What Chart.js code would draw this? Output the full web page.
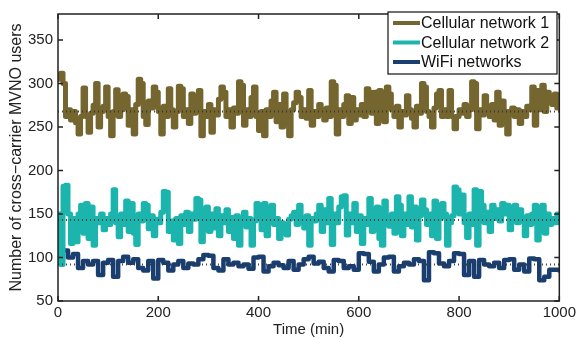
<!DOCTYPE html>
<html>
<head>
<meta charset="utf-8">
<script src="https://cdn.jsdelivr.net/npm/chart.js@4/dist/chart.umd.min.js"></script>
<style>
  html, body { margin: 0; padding: 0; background: #fff; }
  #wrap { width: 579px; height: 339px; }
</style>
</head>
<body>
<div id="wrap"><canvas id="chart"></canvas></div>
<script>
// values, cellular series every 5 min, wifi every 10 min
const cellular1 = [305, 312, 300, 262, 270, 258, 268, 255, 242, 262, 295, 262, 244, 266, 275, 300, 250, 268, 274, 296,
  262, 240, 268, 293, 262, 270, 288, 285, 252, 270, 242, 276, 305, 300, 262, 253, 280, 272, 296, 290,
  268, 242, 274, 262, 294, 270, 250, 268, 297, 294, 262, 270, 254, 288, 266, 272, 292, 240, 268, 262,
  276, 244, 270, 264, 282, 296, 290, 262, 270, 250, 272, 266, 302, 298, 252, 270, 262, 284, 296, 262,
  246, 268, 240, 270, 262, 280, 290, 256, 276, 250, 288, 266, 240, 270, 278, 290, 284, 262, 270, 260,
  292, 252, 268, 262, 276, 270, 258, 272, 262, 302, 298, 242, 270, 262, 276, 286, 254, 284, 258, 270,
  264, 276, 262, 294, 290, 266, 290, 254, 292, 262, 256, 296, 288, 270, 262, 274, 250, 268, 264, 286,
  270, 260, 250, 274, 266, 300, 296, 268, 262, 250, 272, 288, 292, 262, 270, 262, 292, 262, 248, 262,
  270, 266, 276, 262, 270, 302, 300, 248, 270, 264, 286, 270, 262, 276, 258, 290, 252, 280, 268, 242,
  268, 272, 262, 270, 254, 268, 262, 274, 270, 296, 252, 292, 270, 298, 268, 290, 282, 276, 288, 272, 278];
const cellular2 = [150, 92, 182, 183, 150, 116, 145, 118, 150, 160, 128, 162, 122, 158, 114, 145, 140, 150, 132, 145,
  138, 150, 178, 140, 124, 150, 138, 165, 130, 162, 128, 115, 150, 142, 162, 160, 133, 148, 125, 144,
  140, 152, 176, 175, 130, 142, 120, 145, 116, 148, 138, 152, 130, 150, 144, 168, 166, 118, 145, 158,
  130, 150, 134, 156, 125, 148, 140, 155, 130, 146, 122, 148, 114, 142, 152, 135, 145, 114, 142, 162,
  160, 132, 162, 125, 150, 160, 138, 145, 122, 140, 136, 126, 144, 148, 152, 138, 160, 145, 134, 148,
  114, 145, 142, 150, 160, 130, 155, 140, 168, 115, 150, 140, 158, 170, 171, 126, 150, 140, 162, 130,
  148, 116, 145, 138, 168, 130, 150, 158, 122, 114, 165, 142, 136, 150, 128, 170, 160, 125, 150, 138,
  170, 135, 158, 120, 148, 166, 155, 138, 150, 125, 165, 122, 145, 162, 150, 114, 140, 148, 181, 178,
  150, 172, 140, 123, 150, 138, 178, 114, 176, 160, 140, 152, 130, 160, 145, 155, 142, 162, 150, 160,
  132, 150, 160, 140, 155, 145, 125, 148, 138, 150, 160, 120, 145, 160, 128, 150, 138, 145, 140, 150, 140];
const wifi = [98, 108, 100, 104, 88, 96, 92, 96, 80, 94, 97, 78, 96, 101, 94, 98, 88, 85, 96, 76,
  97, 94, 85, 92, 96, 88, 93, 92, 98, 103, 102, 88, 85, 98, 92, 94, 90, 92, 87, 100,
  101, 84, 90, 94, 91, 88, 96, 86, 92, 98, 101, 93, 95, 88, 84, 97, 96, 88, 90, 86,
  105, 104, 95, 84, 92, 100, 101, 84, 90, 94, 92, 98, 96, 74, 106, 105, 93, 90, 96, 105,
  104, 80, 96, 78, 97, 92, 90, 94, 88, 97, 98, 86, 92, 84, 99, 98, 74, 78, 86, 86, 85];
const cellularStep = 5;
const wifiStep = 10;
const means = [268, 143, 92];
const seriesNames = ['Cellular network 1', 'Cellular network 2', 'WiFi networks'];
const seriesColors = ['#75662f', '#1cb5ae', '#193e6f'];
const xTicks = [0, 200, 400, 600, 800, 1000];
const yTicks = [50, 100, 150, 200, 250, 300, 350];

const FONT = "'Liberation Sans', Arial, sans-serif";

function toPoints(values, step) {
  return values.map((v, i) => ({ x: i * step, y: v }));
}

const lineSets = [
  [cellular1, cellularStep, 5],
  [cellular2, cellularStep, 5],
  [wifi, wifiStep, 4.5]
].map(([vals, step, width], k) => ({
  label: seriesNames[k],
  data: toPoints(vals, step),
  borderColor: seriesColors[k],
  borderWidth: width,
  pointRadius: 0,
  stepped: true,
  borderJoinStyle: 'round',
  borderCapStyle: 'round',
  order: 1
}));

const meanSets = means.map(m => ({
  label: 'mean',
  data: [{ x: 0, y: m }, { x: 1000, y: m }],
  borderColor: 'rgba(50,50,50,0.9)',
  borderWidth: 2,
  borderDash: [1, 3],
  pointRadius: 0,
  order: 0
}));

// box, inward ticks and legend drawn like the original figure
const framePlugin = {
  id: 'frame',
  afterDraw(chart) {
    const { ctx, chartArea: a, scales: { x, y } } = chart;
    ctx.save();
    ctx.strokeStyle = '#222';
    ctx.lineWidth = 1.5;
    ctx.strokeRect(a.left, a.top, a.right - a.left, a.bottom - a.top);
    ctx.beginPath();
    xTicks.forEach(t => {
      const px = x.getPixelForValue(t);
      ctx.moveTo(px, a.bottom); ctx.lineTo(px, a.bottom - 5);
      ctx.moveTo(px, a.top); ctx.lineTo(px, a.top + 5);
    });
    yTicks.forEach(t => {
      const py = y.getPixelForValue(t);
      ctx.moveTo(a.left, py); ctx.lineTo(a.left + 5, py);
      ctx.moveTo(a.right, py); ctx.lineTo(a.right - 5, py);
    });
    ctx.stroke();

    // legend
    const lx = 388, ly = 12, lw = 169, lh = 62;
    ctx.fillStyle = '#fff';
    ctx.fillRect(lx, ly, lw, lh);
    ctx.lineWidth = 1.2;
    ctx.strokeStyle = '#111';
    ctx.strokeRect(lx, ly, lw, lh);
    ctx.font = '16px ' + FONT;
    ctx.textBaseline = 'middle';
    seriesNames.forEach((name, i) => {
      const ry = ly + 11 + i * 19.5;
      ctx.strokeStyle = seriesColors[i];
      ctx.lineWidth = 4;
      ctx.beginPath();
      ctx.moveTo(lx + 5, ry); ctx.lineTo(lx + 32, ry);
      ctx.stroke();
      ctx.fillStyle = '#111';
      ctx.fillText(name, lx + 33, ry + 1);
    });
    ctx.restore();
  }
};

new Chart(document.getElementById('chart'), {
  type: 'line',
  data: { datasets: [...meanSets, ...lineSets] },
  options: {
    responsive: true,
    maintainAspectRatio: false,
    animation: false,
    layout: { padding: { top: 8, right: 19, left: 0, bottom: 0 } },
    plugins: { legend: { display: false }, tooltip: { enabled: false } },
    scales: {
      x: {
        type: 'linear',
        min: 0,
        max: 1000,
        afterBuildTicks: s => { s.ticks = xTicks.map(v => ({ value: v })); },
        afterFit: s => { s.height = 38; },
        grid: { display: false, drawTicks: false },
        border: { display: false },
        ticks: { font: { family: FONT, size: 15 }, color: '#222', padding: 3, maxRotation: 0, callback: v => String(v) },
        title: { display: true, text: 'Time (min)', font: { family: FONT, size: 15 }, color: '#222', padding: { top: 0, bottom: 0 } }
      },
      y: {
        min: 50,
        max: 380,
        afterBuildTicks: s => { s.ticks = yTicks.map(v => ({ value: v })); },
        afterFit: s => { s.width = 58; },
        grid: { display: false, drawTicks: false },
        border: { display: false },
        ticks: { font: { family: FONT, size: 15 }, color: '#222', padding: 5, callback: v => String(v) },
        title: { display: true, text: 'Number of cross−carrier MVNO users', font: { family: FONT, size: 16 }, color: '#222', padding: { top: 7, bottom: 0 } }
      }
    }
  },
  plugins: [framePlugin]
});
</script>
</body>
</html>
